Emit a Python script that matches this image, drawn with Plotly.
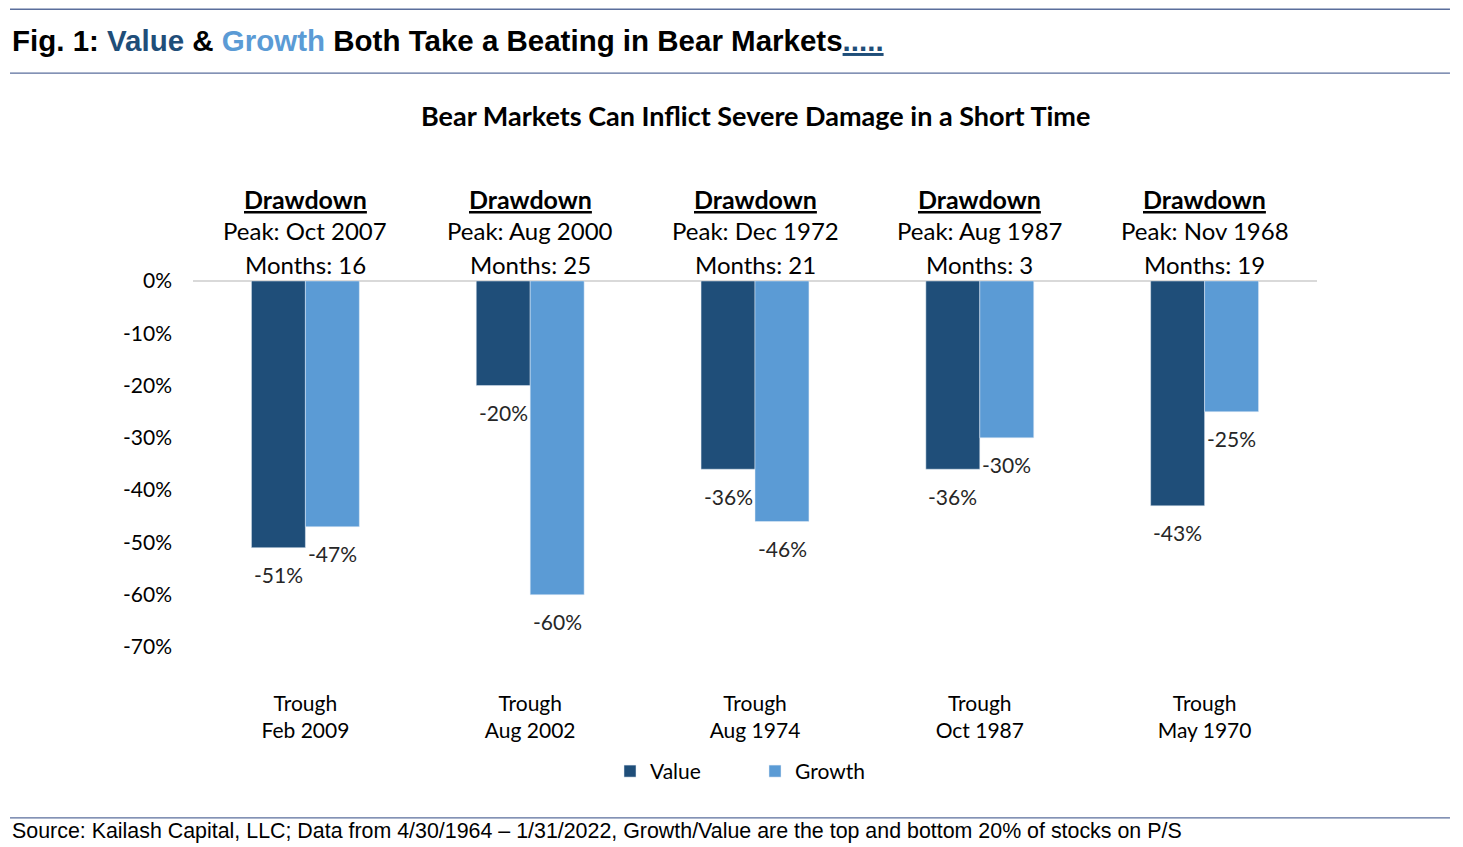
import plotly.graph_objects as go

# data
troughs = ["Trough<br>Feb 2009", "Trough<br>Aug 2002", "Trough<br>Aug 1974",
           "Trough<br>Oct 1987", "Trough<br>May 1970"]
peaks = ["Peak: Oct 2007", "Peak: Aug 2000", "Peak: Dec 1972", "Peak: Aug 1987", "Peak: Nov 1968"]
months = [16, 25, 21, 3, 19]
value = [-0.51, -0.20, -0.36, -0.36, -0.43]
growth = [-0.47, -0.60, -0.46, -0.30, -0.25]
yticks = [0, -0.1, -0.2, -0.3, -0.4, -0.5, -0.6, -0.7]

DARK = "#1f4e79"
LIGHT = "#5b9bd5"
RULE = "#5a6e9c"
CAL = "Lato, 'Open Sans', sans-serif"
ARIAL = "'Liberation Sans', Arial, sans-serif"

fig = go.Figure()
fig.add_trace(go.Bar(x=troughs, y=value, name="Value", marker_color=DARK))
fig.add_trace(go.Bar(x=troughs, y=growth, name="Growth", marker_color=LIGHT))

# value labels sit a little below the end of each bar (Excel style)
for vals, side in [(value, -27), (growth, 27)]:
    for t, v in zip(troughs, vals):
        fig.add_annotation(x=t, y=v, text=f"{v:.0%}", showarrow=False, xshift=side, yshift=-27,
                           yanchor="middle", font=dict(size=21, family=CAL, color="#262626"))

# headers above each pair of bars
for t, p, m in zip(troughs, peaks, months):
    fig.add_annotation(x=t, y=1.224, yref="paper", text="<b><u>Drawdown</u></b>", showarrow=False,
                       font=dict(size=25, family=CAL, color="black"), yanchor="middle")
    fig.add_annotation(x=t, y=1.137, yref="paper", text=p, showarrow=False,
                       font=dict(size=24, family=CAL, color="black"), yanchor="middle")
    fig.add_annotation(x=t, y=1.046, yref="paper", text="Months: %d" % m, showarrow=False,
                       font=dict(size=24, family=CAL, color="black"), yanchor="middle")

fig.add_annotation(
    x=-0.163, y=1.656, xref="paper", yref="paper", xanchor="left", yanchor="middle", showarrow=False,
    text="<b>Fig. 1: <span style='color:%s'>Value</span> &amp; <span style='color:%s'>Growth</span> "
         "Both Take a Beating in Bear Markets<span style='color:%s'><u>.....</u></span></b>" % (DARK, LIGHT, DARK),
    font=dict(size=29.5, family=ARIAL, color="black"))
fig.add_annotation(
    x=0.5, y=1.451, xref="paper", yref="paper", xanchor="center", yanchor="middle", showarrow=False,
    text="<b>Bear Markets Can Inflict Severe Damage in a Short Time</b>",
    font=dict(size=27, family=CAL, color="black"))
fig.add_annotation(
    x=-0.163, y=-0.503, xref="paper", yref="paper", xanchor="left", yanchor="middle", showarrow=False,
    text="Source: Kailash Capital, LLC; Data from 4/30/1964 \u2013 1/31/2022, Growth/Value are the top and bottom 20% of stocks on P/S",
    font=dict(size=21.4, family=ARIAL, color="black"))

for yy in [1.7425, 1.568, -0.467]:
    fig.add_shape(type="line", xref="paper", yref="paper", x0=-0.1628, x1=1.1183, y0=yy, y1=yy,
                  line=dict(color=RULE, width=1.3))

fig.update_layout(
    width=1455, height=839,
    margin=dict(l=185, r=146, t=273, b=200),
    paper_bgcolor="white", plot_bgcolor="white",
    barmode="group", bargap=0.52, bargroupgap=0,
    showlegend=True,
    legend=dict(orientation="h", x=0.5, xanchor="center", y=-0.34, yanchor="middle",
                font=dict(size=21, family=CAL, color="black"), entrywidth=100, traceorder="normal"),
    font=dict(family=CAL, color="black"),
)
fig.update_xaxes(showline=False, ticks="", tickfont=dict(size=21, family=CAL, color="black"),
                 showgrid=False, ticklabelstandoff=42)
fig.update_yaxes(range=[-0.7, 0], tickvals=yticks, ticktext=[f"{v:.0%}" for v in yticks],
                 showgrid=False, zeroline=True, zerolinecolor="#d9d9d9", zerolinewidth=2,
                 tickfont=dict(size=21, family=CAL, color="black"), ticklabelstandoff=20)

fig.write_html("out.html")
